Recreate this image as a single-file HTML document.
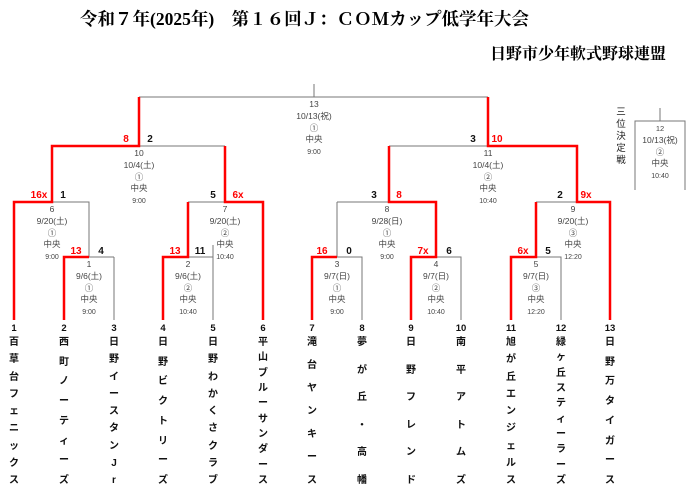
<!DOCTYPE html>
<html><head><meta charset="utf-8"><style>
body{margin:0;width:700px;height:498px;background:#fff;position:relative;overflow:hidden;font-family:"Liberation Sans","Noto Sans CJK JP",sans-serif}
.t{position:absolute;white-space:nowrap}
.team{position:absolute;top:337px;height:150px;width:14px;display:flex;flex-direction:column;justify-content:space-between;align-items:center;font-size:10px;font-weight:bold;color:#111;line-height:12px}
</style></head><body>
<div class="t" style="left:80px;top:6px;font-family:'Liberation Serif','Noto Serif CJK SC',serif;font-weight:bold;font-size:17.5px;">令和７年(2025年)　第１６回Ｊ：ＣＯＭカップ低学年大会</div>
<div class="t" style="left:490px;top:41px;font-family:'Liberation Serif','Noto Serif CJK SC',serif;font-weight:bold;font-size:16px;">日野市少年軟式野球連盟</div>
<svg width="700" height="498" style="position:absolute;left:0;top:0" font-family="Liberation Sans, Noto Sans CJK JP, sans-serif">
<g stroke="#777" stroke-width="1" fill="none">
<path d="M314 84V97M139 97H488"/>
<path d="M139 146H225M389 146H488"/>
<path d="M52 202H89V257M114 257V320M89 257H114"/>
<path d="M188 202H225M213 245V320M188 257H213"/>
<path d="M337 202H389M337 202V257H362V320"/>
<path d="M436 257H461V320"/>
<path d="M536 202H577M536 257H561V320"/>
<path d="M660 108V121M635 190V121H685V190"/>
</g>
<g stroke="#f00" stroke-width="2.5" fill="none">
<path d="M139 97V146H52V202H14V320"/>
<path d="M488 97V146H577V202H610V320"/>
<path d="M225 146V202H263V320"/>
<path d="M389 146V202H436V257H411V320"/>
<path d="M89 257H64V320"/>
<path d="M188 202V257H163V320"/>
<path d="M337 257H312V320"/>
<path d="M536 202V257H511V320"/>
</g>
<g font-size="10" font-weight="bold" text-anchor="middle">
<g fill="#f00"><text x="126" y="142">8</text><text x="497" y="142">10</text><text x="39" y="198">16x</text><text x="238" y="198">6x</text><text x="399" y="198">8</text><text x="586" y="198">9x</text><text x="76" y="254">13</text><text x="175" y="254">13</text><text x="322" y="254">16</text><text x="423" y="254">7x</text><text x="523" y="254">6x</text></g>
<g fill="#111"><text x="150" y="142">2</text><text x="473" y="142">3</text><text x="63" y="198">1</text><text x="213" y="198">5</text><text x="374" y="198">3</text><text x="560" y="198">2</text><text x="101" y="254">4</text><text x="200" y="254">11</text><text x="349" y="254">0</text><text x="449" y="254">6</text><text x="548" y="254">5</text></g>
<g fill="#111" font-size="9.5"><text x="14" y="331">1</text><text x="64" y="331">2</text><text x="114" y="331">3</text><text x="163" y="331">4</text><text x="213" y="331">5</text><text x="263" y="331">6</text><text x="312" y="331">7</text><text x="362" y="331">8</text><text x="411" y="331">9</text><text x="461" y="331">10</text><text x="511" y="331">11</text><text x="561" y="331">12</text><text x="610" y="331">13</text></g>
</g>
<g font-size="8.5" fill="#444" text-anchor="middle">
<g transform="translate(314,97)"><text y="10">13</text><text y="22">10/13(祝)</text><text y="34">①</text><text y="45">中央</text><text y="57" font-size="7">9:00</text></g>
<g transform="translate(139,146)"><text y="10">10</text><text y="22">10/4(土)</text><text y="34">①</text><text y="45">中央</text><text y="57" font-size="7">9:00</text></g>
<g transform="translate(488,146)"><text y="10">11</text><text y="22">10/4(土)</text><text y="34">②</text><text y="45">中央</text><text y="57" font-size="7">10:40</text></g>
<g transform="translate(52,202)"><text y="10">6</text><text y="22">9/20(土)</text><text y="34">①</text><text y="45">中央</text><text y="57" font-size="7">9:00</text></g>
<g transform="translate(225,202)"><text y="10">7</text><text y="22">9/20(土)</text><text y="34">②</text><text y="45">中央</text><text y="57" font-size="7">10:40</text></g>
<g transform="translate(387,202)"><text y="10">8</text><text y="22">9/28(日)</text><text y="34">①</text><text y="45">中央</text><text y="57" font-size="7">9:00</text></g>
<g transform="translate(573,202)"><text y="10">9</text><text y="22">9/20(土)</text><text y="34">③</text><text y="45">中央</text><text y="57" font-size="7">12:20</text></g>
<g transform="translate(89,257)"><text y="10">1</text><text y="22">9/6(土)</text><text y="34">①</text><text y="45">中央</text><text y="57" font-size="7">9:00</text></g>
<g transform="translate(188,257)"><text y="10">2</text><text y="22">9/6(土)</text><text y="34">②</text><text y="45">中央</text><text y="57" font-size="7">10:40</text></g>
<g transform="translate(337,257)"><text y="10">3</text><text y="22">9/7(日)</text><text y="34">①</text><text y="45">中央</text><text y="57" font-size="7">9:00</text></g>
<g transform="translate(436,257)"><text y="10">4</text><text y="22">9/7(日)</text><text y="34">②</text><text y="45">中央</text><text y="57" font-size="7">10:40</text></g>
<g transform="translate(536,257)"><text y="10">5</text><text y="22">9/7(日)</text><text y="34">③</text><text y="45">中央</text><text y="57" font-size="7">12:20</text></g>
<g transform="translate(660,121)"><text y="10" font-size="7.5">12</text><text y="22">10/13(祝)</text><text y="34">②</text><text y="45">中央</text><text y="57" font-size="7">10:40</text></g>
<g transform="translate(621,107)" font-size="9.5" fill="#222"><text y="8">三</text><text y="20">位</text><text y="32">決</text><text y="44">定</text><text y="56">戦</text></g>
</g>
</svg>
<div class="team" style="left:7px"><span>百</span><span>草</span><span>台</span><span>フ</span><span>ェ</span><span>ニ</span><span>ッ</span><span>ク</span><span>ス</span></div>
<div class="team" style="left:57px"><span>西</span><span>町</span><span>ノ</span><span>ー</span><span>テ</span><span>ィ</span><span>ー</span><span>ズ</span></div>
<div class="team" style="left:107px"><span>日</span><span>野</span><span>イ</span><span>ー</span><span>ス</span><span>タ</span><span>ン</span><span>J</span><span>r</span></div>
<div class="team" style="left:156px"><span>日</span><span>野</span><span>ビ</span><span>ク</span><span>ト</span><span>リ</span><span>ー</span><span>ズ</span></div>
<div class="team" style="left:206px"><span>日</span><span>野</span><span>わ</span><span>か</span><span>く</span><span>さ</span><span>ク</span><span>ラ</span><span>ブ</span></div>
<div class="team" style="left:256px"><span>平</span><span>山</span><span>ブ</span><span>ル</span><span>ー</span><span>サ</span><span>ン</span><span>ダ</span><span>ー</span><span>ス</span></div>
<div class="team" style="left:305px"><span>滝</span><span>台</span><span>ヤ</span><span>ン</span><span>キ</span><span>ー</span><span>ス</span></div>
<div class="team" style="left:355px"><span>夢</span><span>が</span><span>丘</span><span>・</span><span>高</span><span>幡</span></div>
<div class="team" style="left:404px"><span>日</span><span>野</span><span>フ</span><span>レ</span><span>ン</span><span>ド</span></div>
<div class="team" style="left:454px"><span>南</span><span>平</span><span>ア</span><span>ト</span><span>ム</span><span>ズ</span></div>
<div class="team" style="left:504px"><span>旭</span><span>が</span><span>丘</span><span>エ</span><span>ン</span><span>ジ</span><span>ェ</span><span>ル</span><span>ス</span></div>
<div class="team" style="left:554px"><span>緑</span><span>ヶ</span><span>丘</span><span>ス</span><span>テ</span><span>ィ</span><span>ー</span><span>ラ</span><span>ー</span><span>ズ</span></div>
<div class="team" style="left:603px"><span>日</span><span>野</span><span>万</span><span>タ</span><span>イ</span><span>ガ</span><span>ー</span><span>ス</span></div>
</body></html>
